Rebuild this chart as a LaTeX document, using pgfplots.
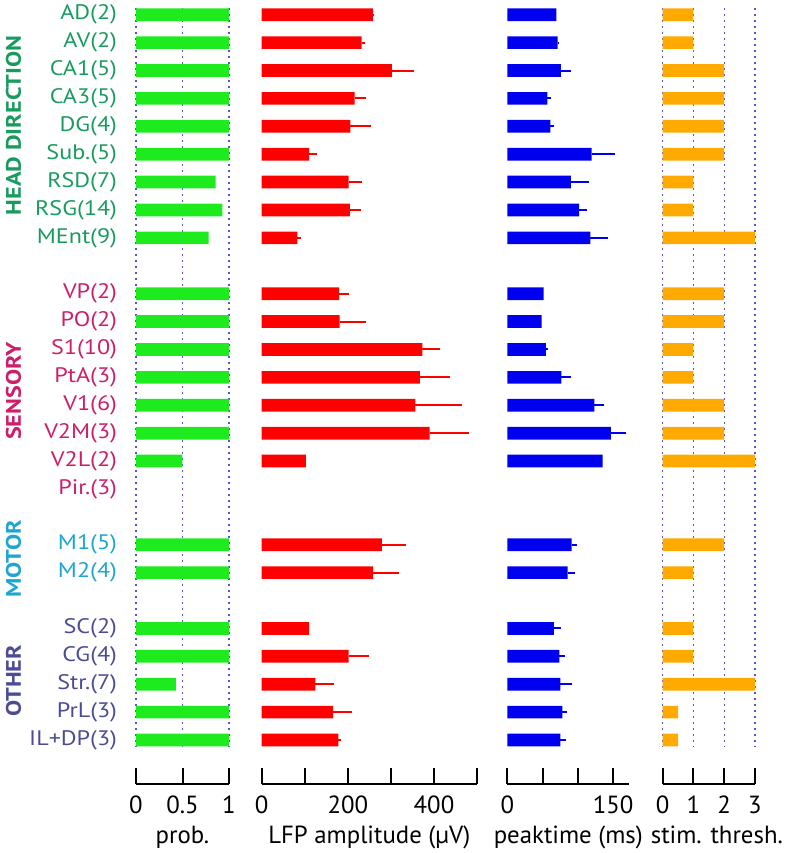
\documentclass[border=0pt]{standalone}
\usepackage{pgfplots}
\usepackage{pgfplotstable}
\pgfplotsset{compat=1.18}
\usepackage{fontspec}
\setmainfont{PT Sans}
\newfontfamily\catfont[FakeStretch=1.15]{PT Sans}

\definecolor{hd}{RGB}{25,155,95}
\definecolor{se}{RGB}{205,30,105}
\definecolor{mo}{RGB}{30,165,210}
\definecolor{ot}{RGB}{75,75,150}
\definecolor{bgreen}{RGB}{30,235,30}
\definecolor{bred}{RGB}{255,0,0}
\definecolor{bblue}{RGB}{0,0,240}
\definecolor{borange}{RGB}{255,170,0}
\definecolor{gridblue}{RGB}{85,85,215}

% row positions: 0..8 head direction, 10..17 sensory, 19..20 motor, 22..26 other
\pgfplotstableread{
p v
0 1
1 1
2 1
3 1
4 1
5 1
6 0.857
7 0.929
8 0.78
10 1
11 1
12 1
13 1
14 1
15 1
16 0.5
19 1
20 1
22 1
23 1
24 0.43
25 1
26 1
}\prob

\pgfplotstableread{
p v e
0 258 2
1 232 9
2 302 52
3 216 27
4 206 47
5 110 19
6 202 32
7 205 25
8 83 8
10 180 22
11 181 62
12 373 42
13 367 70
14 357 107
15 390 92
16 103 0
19 279 55
20 259 60
22 110 0
23 202 48
24 125 43
25 166 43
26 178 7
}\lfp

\pgfplotstableread{
p v e
0 69.4 0
1 71.4 1.4
2 76 13.8
3 56.7 5.2
4 61 4.7
5 119.5 32.5
6 90.2 25.8
7 101.6 10.9
8 117.6 25
10 51.5 0
11 48.7 0
12 54.8 3.2
13 76.5 13.7
14 123.2 14.2
15 146.9 21.7
16 135.1 0
19 91.2 8
20 85.5 10
22 66.1 9.9
23 73.7 8.5
24 75.1 16.1
25 77.9 6.7
26 75.1 8
}\peak

\pgfplotstableread{
p v
0 1
1 1
2 2
3 2
4 2
5 2
6 1
7 1
8 3
10 2
11 2
12 1
13 1
14 2
15 2
16 3
19 2
20 1
22 1
23 1
24 3
25 0.5
26 0.5
}\stim

\pgfplotsset{
  barpanel/.style={
    scale only axis,
    anchor=north west,
    height=369.35pt,
    y dir=reverse,
    ymin=-0.24, ymax=26.24,
    xmin=0,
    axis line style={draw=none},
    major tick length=0pt,
    ytick=\empty,
    xticklabels={},
    clip=false,
    grid style={gridblue, line width=0.7pt, dash pattern=on 1pt off 2pt},
  },
  xpanel/.style={
    scale only axis,
    anchor=south west,
    height=8pt,
    ymin=0, ymax=1,
    axis x line=bottom,
    axis y line=none,
    x axis line style={-, line width=1pt, black},
    tick align=inside,
    major tick length=8pt,
    every tick/.style={line width=1pt, black},
    xticklabel style={anchor=base, yshift=-14.65pt, font=\fontsize{12.4}{14}\selectfont},
    xlabel style={at={(axis description cs:0.5,0)}, anchor=base, yshift=-29.5pt, font=\fontsize{12.4}{14}\selectfont},
  },
}

\begin{document}
\begin{tikzpicture}
\path[use as bounding box] (0,0) rectangle (392pt,-426.5pt);

% ---------- panel 1: probability ----------
\begin{axis}[barpanel, at={(68pt,-4pt)}, width=46.5pt, xmax=1,
  xtick={0,0.5,1}, xmajorgrids=true,
  ytick={0,1,2,3,4,5,6,7,8,10,11,12,13,14,15,16,17,19,20,22,23,24,25,26},
  yticklabels={
    \textcolor{hd}{AD(2)},\textcolor{hd}{AV(2)},\textcolor{hd}{CA1(5)},\textcolor{hd}{CA3(5)},
    \textcolor{hd}{DG(4)},\textcolor{hd}{Sub.(5)},\textcolor{hd}{RSD(7)},\textcolor{hd}{RSG(14)},
    \textcolor{hd}{MEnt(9)},
    \textcolor{se}{VP(2)},\textcolor{se}{PO(2)},\textcolor{se}{S1(10)},\textcolor{se}{PtA(3)},
    \textcolor{se}{V1(6)},\textcolor{se}{V2M(3)},\textcolor{se}{V2L(2)},\textcolor{se}{Pir.(3)},
    \textcolor{mo}{M1(5)},\textcolor{mo}{M2(4)},
    \textcolor{ot}{SC(2)},\textcolor{ot}{CG(4)},\textcolor{ot}{Str.(7)},\textcolor{ot}{PrL(3)},
    \textcolor{ot}{IL+DP(3)}},
  yticklabel style={xshift=-6pt, font=\catfont\fontsize{10.5}{12}\selectfont},
]
\addplot[xbar, fill=bgreen, draw=none, bar width=0.455] table[x=v, y=p] {\prob};
\end{axis}
\begin{axis}[xpanel, at={(68pt,-392pt)}, width=46.5pt, xmin=0, xmax=1,
  xtick={0,0.5,1}, xticklabels={0,0.5,1}, xlabel={prob.}]
\end{axis}

% ---------- panel 2: LFP amplitude ----------
\begin{axis}[barpanel, at={(130.8pt,-4pt)}, width=107.75pt, xmax=500, xtick=\empty]
\addplot[xbar, fill=bred, draw=none, bar width=0.455,
  error bars/.cd, x dir=plus, x explicit, error mark=none,
  error bar style={line width=1pt, bred}]
  table[x=v, y=p, x error=e] {\lfp};
\end{axis}
\begin{axis}[xpanel, at={(130.8pt,-392pt)}, width=107.75pt, xmin=0, xmax=500,
  xtick={0,100,200,300,400,500}, xticklabels={0,,200,,400,}, xlabel={LFP amplitude (µV)}]
\end{axis}

% ---------- panel 3: peak time ----------
\begin{axis}[barpanel, at={(253.65pt,-4pt)}, width=61.05pt, xmax=173, xtick=\empty]
\addplot[xbar, fill=bblue, draw=none, bar width=0.455,
  error bars/.cd, x dir=plus, x explicit, error mark=none,
  error bar style={line width=1pt, bblue}]
  table[x=v, y=p, x error=e] {\peak};
\end{axis}
\begin{axis}[xpanel, at={(253.65pt,-392pt)}, width=61.05pt, xmin=0, xmax=173,
  xtick={0,50,100,150}, xticklabels={0,,,150}, xlabel={peaktime (ms)}]
\end{axis}

% ---------- panel 4: stimulation threshold ----------
\begin{axis}[barpanel, at={(331.35pt,-4pt)}, width=46.15pt, xmax=3,
  xtick={0,1,2,3}, xmajorgrids=true]
\addplot[xbar, fill=borange, draw=none, bar width=0.455] table[x=v, y=p] {\stim};
\end{axis}
\begin{axis}[xpanel, at={(331.35pt,-392pt)}, width=46.15pt, xmin=0, xmax=3,
  xtick={0,1,2,3}, xticklabels={0,1,2,3}, xlabel={stim. thresh.},
  xlabel style={xshift=4pt}]
\end{axis}

% ---------- group labels ----------
\begin{scope}[every node/.style={rotate=90, anchor=center, font=\catfont\bfseries\fontsize{10.5}{12}\selectfont}]
\node[text=hd] at (6.75pt,-62.8pt) {HEAD DIRECTION};
\node[text=se] at (6.75pt,-195.5pt) {SENSORY};
\node[text=mo] at (6.75pt,-279.4pt) {MOTOR};
\node[text=ot] at (6.75pt,-340.5pt) {OTHER};
\end{scope}
\end{tikzpicture}
\end{document}
